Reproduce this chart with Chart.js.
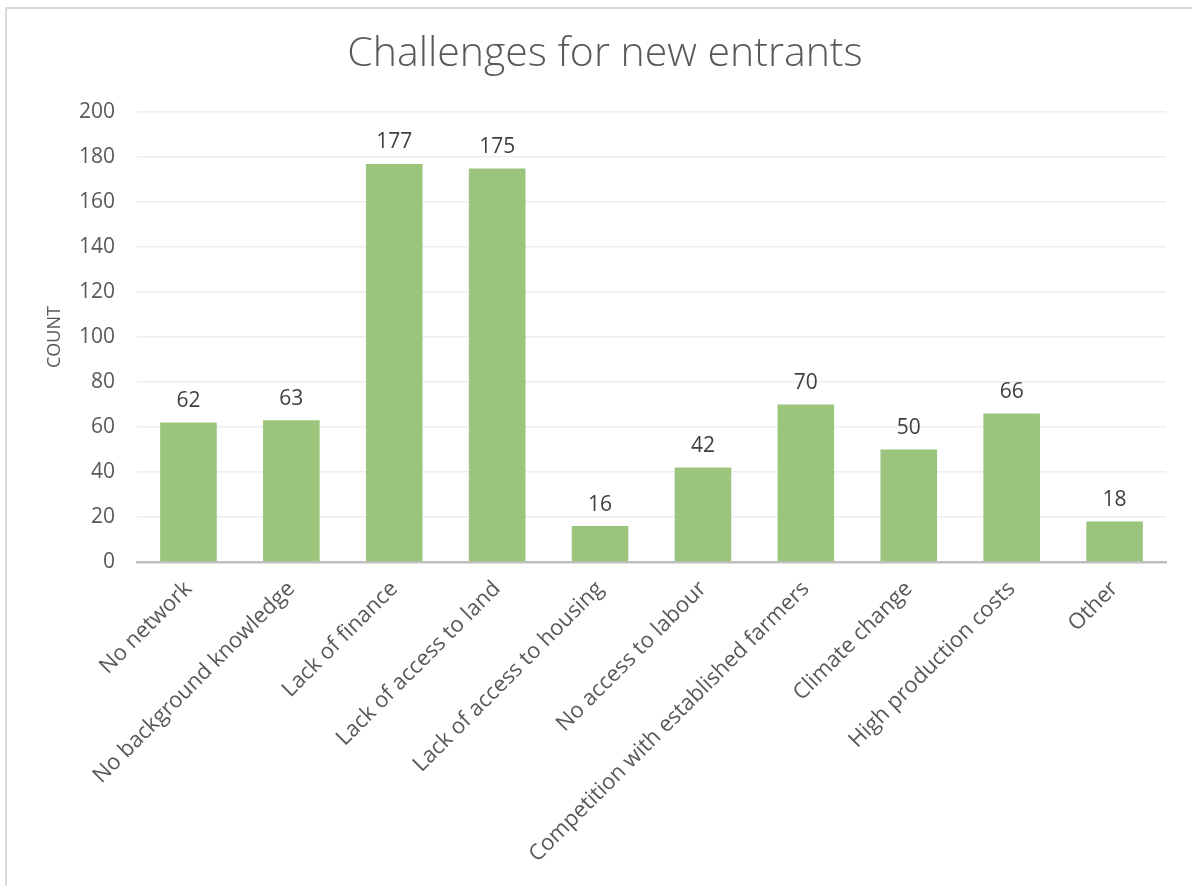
<!DOCTYPE html>
<html>
<head>
<meta charset="utf-8">
<script src="https://cdn.jsdelivr.net/npm/chart.js@4.4.1/dist/chart.umd.min.js"></script>
<style>
    html, body { margin: 0; padding: 0; background: #fff; overflow: hidden; }
    #wrap { position: relative; width: 1192px; height: 886px; }
    #frame {
        position: absolute; left: 5px; top: 7px; width: 1200px; height: 900px;
        border: 2px solid #d9d9d9; box-sizing: border-box;
    }
    canvas { position: absolute; left: 0; top: 0; }
</style>
</head>
<body>
<div id="wrap">
    <div id="frame"></div>
    <canvas id="challengeChart" width="1192" height="886"></canvas>
</div>
<script>
// 数据
const categories = [
    'No network',
    'No background knowledge',
    'Lack of finance',
    'Lack of access to land',
    'Lack of access to housing',
    'No access to labour',
    'Competition with established farmers',
    'Climate change',
    'High production costs',
    'Other'
];
const counts = [62, 63, 177, 175, 16, 42, 70, 50, 66, 18];
const yTicks = [0, 20, 40, 60, 80, 100, 120, 140, 160, 180, 200];

const FONT = "'Open Sans', 'Liberation Sans', sans-serif";
const textColor = '#595959';

// 柱顶数值标签
const valueLabels = {
    id: 'valueLabels',
    afterDatasetsDraw(chart) {
        const ctx = chart.ctx;
        const meta = chart.getDatasetMeta(0);
        ctx.save();
        ctx.font = '21px ' + FONT;
        ctx.fillStyle = '#404040';
        ctx.textAlign = 'center';
        ctx.textBaseline = 'bottom';
        meta.data.forEach((bar, i) => {
            ctx.fillText(String(counts[i]), bar.x, bar.y - 11);
        });
        ctx.restore();
    }
};

new Chart(document.getElementById('challengeChart').getContext('2d'), {
    type: 'bar',
    data: {
        labels: categories,
        datasets: [{
            label: 'COUNT',
            data: counts,
            backgroundColor: '#9bc47d',
            borderWidth: 0,
            categoryPercentage: 1.0,
            barPercentage: 0.55
        }]
    },
    options: {
        responsive: false,
        animation: false,
        devicePixelRatio: 1,
        layout: { padding: { left: 44, right: 26, top: 14, bottom: 0 } },
        plugins: {
            legend: { display: false },
            tooltip: { enabled: false },
            title: {
                display: true,
                text: 'Challenges for new entrants',
                color: textColor,
                font: { family: FONT, size: 41, weight: '300' },
                padding: { top: 16, bottom: 33 }
            }
        },
        scales: {
            x: {
                grid: { display: false },
                border: { display: true, color: '#bfbfbf', width: 2.5 },
                ticks: {
                    color: textColor,
                    font: { family: FONT, size: 22 },
                    autoSkip: false,
                    minRotation: 45,
                    maxRotation: 45,
                    padding: 6
                },
                afterFit(scale) { scale.height = 886 - 562; }
            },
            y: {
                min: 0,
                max: 200,
                afterBuildTicks(scale) { scale.ticks = yTicks.map(v => ({ value: v })); },
                grid: { color: '#ededed', lineWidth: 1.5, drawTicks: false },
                border: { display: false },
                ticks: {
                    color: textColor,
                    font: { family: FONT, size: 21 },
                    padding: 22
                },
                title: {
                    display: true,
                    text: 'COUNT',
                    color: textColor,
                    font: { family: FONT, size: 18 },
                    padding: { top: 0, bottom: 6 }
                },
                afterFit(scale) { scale.width = 137 - 44; }
            }
        }
    },
    plugins: [valueLabels]
});
</script>
</body>
</html>
